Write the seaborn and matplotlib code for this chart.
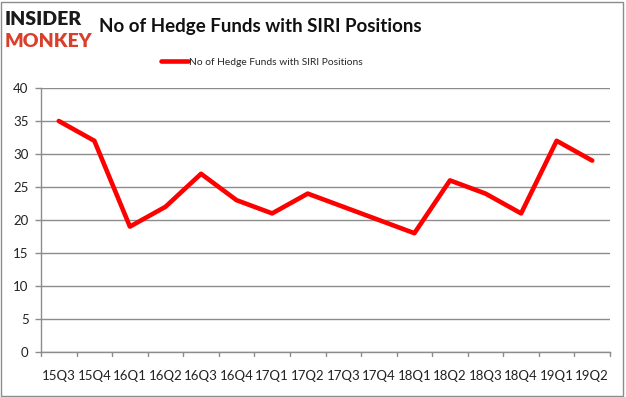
import matplotlib
matplotlib.use("Agg")
import matplotlib.pyplot as plt
import pandas as pd
import seaborn as sns
from matplotlib.patches import Rectangle

# --- data ---
quarters = ["15Q3", "15Q4", "16Q1", "16Q2", "16Q3", "16Q4", "17Q1", "17Q2",
            "17Q3", "17Q4", "18Q1", "18Q2", "18Q3", "18Q4", "19Q1", "19Q2"]
hedge_funds = [35, 32, 19, 22, 27, 23, 21, 24, 22, 20, 18, 26, 24, 21, 32, 29]
y_ticks = [0, 5, 10, 15, 20, 25, 30, 35, 40]
series_name = "No of Hedge Funds with SIRI Positions"

sns.set_theme(style="white")
plt.rcParams["font.family"] = ["Lato", "DejaVu Sans"]

df = pd.DataFrame({"quarter": quarters, "funds": hedge_funds})
df["pos"] = range(len(df))

fig = plt.figure(figsize=(6.26, 3.97), dpi=100)
ax = fig.add_axes([41 / 626, 1 - 352 / 397, (610 - 41) / 626, (352 - 88) / 397])

sns.lineplot(data=df, x="pos", y="funds", color="#ff0000", linewidth=3.3,
             ax=ax, label=series_name, legend=False)

# --- axes styling (excel-like) ---
ax.set_xlim(-0.5, len(quarters) - 0.5)
ax.set_ylim(0, 40)
ax.set_yticks(y_ticks)
ax.set_yticklabels([str(t) for t in y_ticks], fontsize=9.5, color="#222222")
ax.set_xticks(df["pos"])
ax.set_xticklabels(quarters, fontsize=9.5, color="#222222")
ax.set_xlabel("")
ax.set_ylabel("")
ax.grid(axis="y", color="#8c8c8c", linewidth=1)
ax.set_axisbelow(True)
for side in ["top", "right"]:
    ax.spines[side].set_visible(False)
for side in ["left", "bottom"]:
    ax.spines[side].set_color("#8c8c8c")
    ax.spines[side].set_linewidth(1)

# category boundary ticks on x, small ticks on y
ax.tick_params(axis="x", length=0, pad=13)
ax.tick_params(axis="y", length=4, color="#8c8c8c", width=1, pad=5, direction="out", left=True)
for b in [i - 0.5 for i in range(len(quarters) + 1)]:
    ax.plot([b, b], [0, -0.55], color="#8c8c8c", linewidth=1, clip_on=False)

# --- title & legend ---
fig.text(0.416, 0.932, series_name, ha="center", va="center",
         fontsize=13.5, fontweight="bold", color="#111111")
fig.legend(handles=ax.get_lines()[:1], labels=[series_name], loc="center",
           bbox_to_anchor=(0.418, 0.843), frameon=False, fontsize=7.4,
           handlelength=2.6, handletextpad=0.1)

# --- logo ---
fig.text(0.008, 0.95, "INSIDER", ha="left", va="center", fontsize=14,
         fontweight="heavy", color="#1a1a1a")
fig.text(0.008, 0.895, "MONKEY", ha="left", va="center", fontsize=14,
         fontweight="heavy", color="#d9402b")

# outer frame
fig.patches.append(Rectangle((0.002, 0.003), 0.994, 0.993, transform=fig.transFigure,
                             fill=False, edgecolor="#8c8c8c", linewidth=1))

fig.savefig("out.png", dpi=100)
